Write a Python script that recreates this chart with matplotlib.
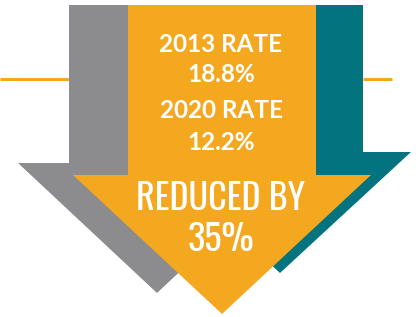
import matplotlib
matplotlib.use("Agg")
import matplotlib.pyplot as plt
from matplotlib.patches import Polygon

# ---- data ----
labels = ["2013 RATE", "2020 RATE"]
rates = [18.8, 12.2]
reduction_label = "REDUCED BY"
reduction_pct = 35

ORANGE = "#F4A820"
GRAY = "#8C8C8E"
TEAL = "#03737F"

fig = plt.figure(figsize=(4.16, 3.17), dpi=100)
ax = fig.add_axes([0, 0, 1, 1])
ax.set_xlim(0, 416)
ax.set_ylim(317, 0)
ax.axis("off")


def arrow(cx, shaft_half, head_half, top, head_y, tip_y, color, z):
    pts = [(cx - shaft_half, top), (cx + shaft_half, top),
           (cx + shaft_half, head_y), (cx + head_half, head_y),
           (cx, tip_y), (cx - head_half, head_y),
           (cx - shaft_half, head_y)]
    ax.add_patch(Polygon(pts, closed=True, facecolor=color, edgecolor="none", zorder=z))


# horizontal rule
ax.plot([0, 69], [79, 79], color=ORANGE, lw=2.2, zorder=1, solid_capstyle="butt")
ax.plot([363, 392], [79, 79], color=ORANGE, lw=2.2, zorder=1, solid_capstyle="butt")

arrow(157, 88, 139, 5, 163, 293, GRAY, 2)
arrow(280, 83, 131, 5, 152, 273, TEAL, 2)
arrow(222, 94, 149, 5, 175, 314, ORANGE, 3)

sans = ["Lato", "DejaVu Sans"]
cond = ["Oswald", "DejaVu Sans"]

kw = dict(ha="center", va="center", color="white", fontsize=17.5,
          fontweight="bold", family=sans, zorder=5)
ax.text(221, 45, labels[0], **kw)
ax.text(221, 75, f"{rates[0]:.1f}%", **kw)
ax.text(221, 111, labels[1], **kw)
ax.text(221, 142, f"{rates[1]:.1f}%", **kw)

kw2 = dict(ha="center", va="center", color="white", fontsize=26,
           fontweight="light", family=cond, zorder=5)
ax.text(221, 199, reduction_label, **kw2)
ax.text(221, 240, f"{reduction_pct}%", **kw2)

fig.savefig("out.png", dpi=100)
